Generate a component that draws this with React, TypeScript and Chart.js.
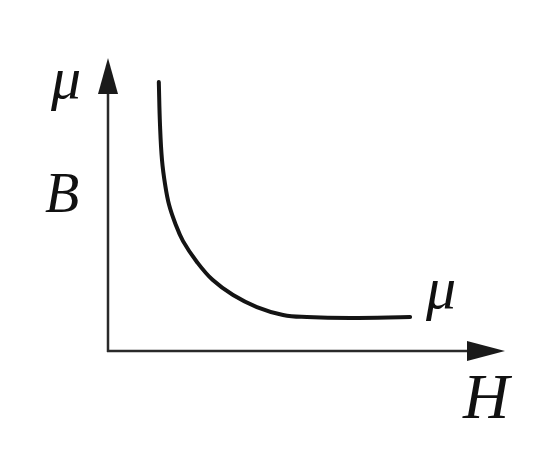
import React, { useEffect, useRef } from "react";
import { Chart, registerables } from "chart.js";

Chart.register(...registerables);

// Curve of permeability μ versus field strength H (arbitrary units)
const hValues = [1.28, 1.31, 1.36, 1.44, 1.54, 1.69, 1.89, 2.24, 2.64, 3.15, 3.75, 4.41, 5.01, 6.1, 7.61];
const muValues = [9.18, 7.71, 6.52, 5.67, 4.98, 4.37, 3.75, 3.04, 2.42, 1.91, 1.5, 1.23, 1.16, 1.13, 1.16];
const axisLabels = { yTop: "μ", yMid: "B", curveEnd: "μ", xEnd: "H" };

const FONT = "italic {size}px 'Liberation Serif', 'DejaVu Serif', serif";

const axesPlugin = {
  id: "arrowAxes",
  afterDraw(chart: any) {
    const ctx = chart.ctx;
    const x = chart.scales.x;
    const y = chart.scales.y;
    const x0 = x.getPixelForValue(0);
    const x1 = x.getPixelForValue(x.max);
    const y0 = y.getPixelForValue(0);
    const y1 = y.getPixelForValue(y.max);
    ctx.save();
    ctx.strokeStyle = "#2a2a2a";
    ctx.fillStyle = "#1a1a1a";
    ctx.lineWidth = 2.5;
    // y axis
    ctx.beginPath();
    ctx.moveTo(x0, y0 + 1);
    ctx.lineTo(x0, y1 + 20);
    ctx.stroke();
    // x axis
    ctx.beginPath();
    ctx.moveTo(x0 - 1, y0);
    ctx.lineTo(x1 - 20, y0);
    ctx.stroke();
    // arrowheads
    ctx.beginPath();
    ctx.moveTo(x0, y1);
    ctx.lineTo(x0 - 10, y1 + 36);
    ctx.lineTo(x0 + 10, y1 + 36);
    ctx.closePath();
    ctx.fill();
    ctx.beginPath();
    ctx.moveTo(x1, y0);
    ctx.lineTo(x1 - 38, y0 - 10);
    ctx.lineTo(x1 - 38, y0 + 10);
    ctx.closePath();
    ctx.fill();

    // labels
    ctx.fillStyle = "#111";
    ctx.textAlign = "center";
    ctx.textBaseline = "alphabetic";
    ctx.font = FONT.replace("{size}", "60");
    ctx.fillText(axisLabels.yTop, x0 - 42, y1 + 40);
    ctx.font = FONT.replace("{size}", "56");
    ctx.fillText(axisLabels.yMid, x0 - 46, y0 - 139);
    const lastX = x.getPixelForValue(hValues[hValues.length - 1]);
    const lastY = y.getPixelForValue(muValues[muValues.length - 1]);
    ctx.font = FONT.replace("{size}", "60");
    ctx.fillText(axisLabels.curveEnd, lastX + 31, lastY - 9);
    ctx.font = FONT.replace("{size}", "64");
    ctx.fillText(axisLabels.xEnd, x1 - 19, y0 + 67);
    ctx.restore();
  },
};

export default function App() {
  const ref = useRef<HTMLCanvasElement | null>(null);
  useEffect(() => {
    document.body.style.margin = "0";
    document.body.style.background = "#ffffff";
    if (!ref.current) return;
    const chart = new Chart(ref.current, {
      type: "line",
      data: {
        datasets: [
          {
            data: hValues.map((h, i) => ({ x: h, y: muValues[i] })),
            borderColor: "#141414",
            borderWidth: 4,
            pointRadius: 0,
            tension: 0.4,
            fill: false,
            borderCapStyle: "round",
            borderJoinStyle: "round",
          } as any,
        ],
      },
      options: {
        responsive: false,
        animation: false,
        maintainAspectRatio: false,
        layout: { padding: { left: 108, right: 52, top: 58, bottom: 108 } },
        plugins: { legend: { display: false }, tooltip: { enabled: false } },
        scales: {
          x: { type: "linear", min: 0, max: 10, display: false },
          y: { type: "linear", min: 0, max: 10, display: false },
        },
      },
      plugins: [axesPlugin],
    });
    return () => chart.destroy();
  }, []);
  return (
    <div style={{ width: 557, height: 459, background: "#fff" }}>
      <canvas ref={ref} width={557} height={459} style={{ display: "block" }} />
    </div>
  );
}
